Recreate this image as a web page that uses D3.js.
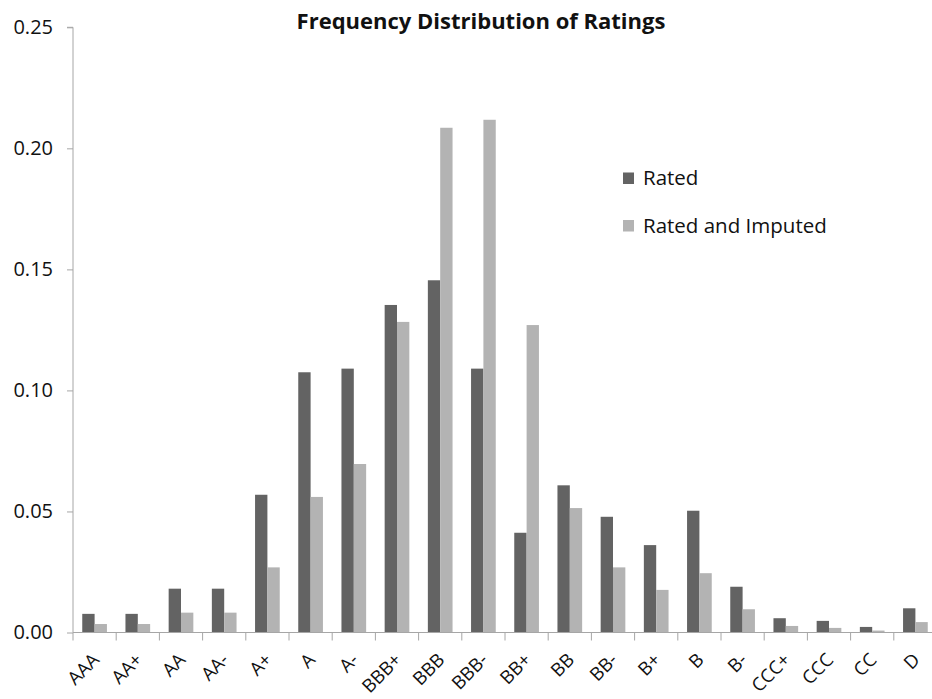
<!DOCTYPE html>
<html>
<head>
<meta charset="utf-8">
<script src="https://cdn.jsdelivr.net/npm/d3@7"></script>
<style>
  html, body { margin: 0; padding: 0; background: #fff; }
  svg { display: block; }
  text { font-family: "Open Sans", "Noto Sans", sans-serif; fill: #111; }
</style>
</head>
<body>
<svg id="chart" width="932" height="699"></svg>
<script>
// Rating grades along the x axis
const categories = ["AAA", "AA+", "AA", "AA-", "A+", "A", "A-", "BBB+", "BBB", "BBB-",
                    "BB+", "BB", "BB-", "B+", "B", "B-", "CCC+", "CCC", "CC", "D"];

// Share of firms in each grade
const rated = [0.0077, 0.0077, 0.0181, 0.0181, 0.0569, 0.1075, 0.1090, 0.1353, 0.1455, 0.1090,
               0.0412, 0.0608, 0.0478, 0.0361, 0.0503, 0.0189, 0.0059, 0.0048, 0.0023, 0.0100];
const ratedImputed = [0.0035, 0.0035, 0.0082, 0.0082, 0.0269, 0.0560, 0.0696, 0.1283, 0.2085, 0.2118,
                      0.1270, 0.0514, 0.0269, 0.0176, 0.0245, 0.0096, 0.0027, 0.0019, 0.0008, 0.0043];

const seriesNames = ["Rated", "Rated and Imputed"];
const yTicks = [0, 0.05, 0.10, 0.15, 0.20, 0.25];
const title = "Frequency Distribution of Ratings";

const colors = ["#636363", "#b3b3b3"];
const axisColor = "#a6a6a6";

const svg = d3.select("#chart");

const plotLeft = 73, plotRight = 937, plotTop = 27.3, plotBottom = 632.5;

const x = d3.scaleBand().domain(categories).range([plotLeft, plotRight]).paddingInner(0).paddingOuter(0);
const y = d3.scaleLinear().domain([0, 0.25]).range([plotBottom, plotTop]);

// Two bars per grade, 150% gap width
const barW = x.bandwidth() / 3.5;
const series = [rated, ratedImputed];

series.forEach((vals, si) => {
  svg.append("g")
    .selectAll("rect")
    .data(categories.map((c, i) => ({ c, v: vals[i] })))
    .join("rect")
    .attr("x", d => x(d.c) + barW * 0.75 + si * barW)
    .attr("y", d => y(d.v))
    .attr("width", barW)
    .attr("height", d => plotBottom - y(d.v))
    .attr("fill", colors[si]);
});

// Y axis
const yAxis = svg.append("g")
  .attr("transform", `translate(${plotLeft},0)`)
  .call(d3.axisLeft(y).tickValues(yTicks).tickFormat(d3.format(".2f")).tickSize(6).tickPadding(14));
yAxis.select(".domain").attr("stroke", axisColor).attr("d", `M-6,${plotTop}H0V${plotBottom}`);
yAxis.selectAll(".tick line").attr("stroke", axisColor);
yAxis.selectAll(".tick text").attr("font-size", 20).attr("fill", "#111")
  .attr("font-family", "'Open Sans', sans-serif");

// X axis line with tick marks at category boundaries
const xg = svg.append("g");
xg.append("line")
  .attr("x1", plotLeft).attr("x2", plotRight)
  .attr("y1", plotBottom).attr("y2", plotBottom)
  .attr("stroke", axisColor);
const bounds = categories.map(c => x(c)).concat([x(categories[categories.length - 1]) + x.bandwidth()]);
xg.selectAll("line.tick")
  .data(bounds)
  .join("line")
  .attr("class", "tick")
  .attr("x1", d => d).attr("x2", d => d)
  .attr("y1", plotBottom).attr("y2", plotBottom + 8)
  .attr("stroke", axisColor);

// Rotated category labels
xg.selectAll("text")
  .data(categories)
  .join("text")
  .attr("transform", d => `translate(${x(d) + x.bandwidth() / 2 + 1},${plotBottom + 24}) rotate(-45)`)
  .attr("text-anchor", "end")
  .attr("dy", "0.35em")
  .attr("font-size", 18.5)
  .text(d => d);

// Title
svg.append("text")
  .attr("x", 481)
  .attr("y", 29)
  .attr("text-anchor", "middle")
  .attr("font-size", 22)
  .attr("font-weight", "bold")
  .text(title);

// Legend
const legend = svg.append("g");
seriesNames.forEach((name, i) => {
  const ly = 172.5 + i * 47.5;
  legend.append("rect")
    .attr("x", 623).attr("y", ly)
    .attr("width", 11).attr("height", 11.5)
    .attr("fill", colors[i]);
  legend.append("text")
    .attr("x", 643).attr("y", ly + 12.5)
    .attr("font-size", 20.5)
    .text(name);
});
</script>
</body>
</html>
